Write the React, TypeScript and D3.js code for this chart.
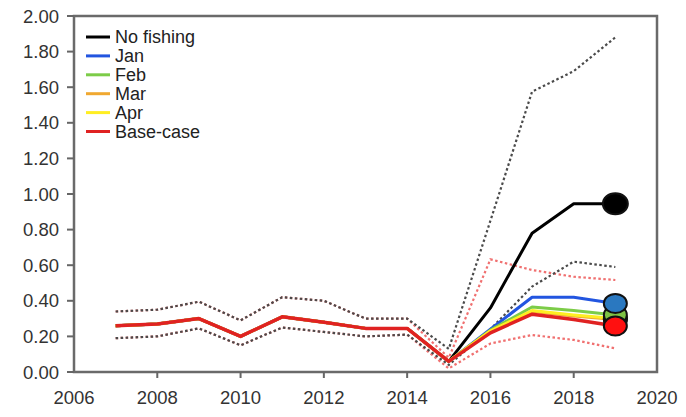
import React from "react";
import * as d3 from "d3";

const years = [2007, 2008, 2009, 2010, 2011, 2012, 2013, 2014, 2015, 2016, 2017, 2018, 2019];
const historic = [0.26, 0.27, 0.3, 0.2, 0.31, 0.28, 0.245, 0.245, 0.06];
const noFishing = [...historic, 0.36, 0.78, 0.945, 0.945];
const jan = [...historic, 0.24, 0.42, 0.42, 0.385];
const feb = [...historic, 0.235, 0.365, 0.345, 0.32];
const mar = [...historic, 0.23, 0.34, 0.315, 0.295];
const apr = [...historic, 0.23, 0.345, 0.32, 0.3];
const baseCase = [...historic, 0.22, 0.325, 0.295, 0.258];

const histUpper = [0.34, 0.35, 0.395, 0.29, 0.42, 0.4, 0.3, 0.3];
const histLower = [0.19, 0.2, 0.245, 0.15, 0.25, 0.225, 0.2, 0.21];
const noFishingUpper = [...histUpper, 0.13, 0.85, 1.575, 1.69, 1.88];
const noFishingLower = [...histLower, 0.04, 0.24, 0.48, 0.62, 0.59];
const baseUpper = [...histUpper, 0.08, 0.633, 0.573, 0.535, 0.517];
const baseLower = [...histLower, 0.02, 0.16, 0.208, 0.18, 0.133];

const xTicks = [2006, 2008, 2010, 2012, 2014, 2016, 2018, 2020];
const yTicks = [0, 0.2, 0.4, 0.6, 0.8, 1.0, 1.2, 1.4, 1.6, 1.8, 2.0];

const series = [
  { name: "No fishing", values: noFishing, color: "#000000", marker: "#000000" },
  { name: "Jan", values: jan, color: "#2255e0", marker: "#2a78c0" },
  { name: "Feb", values: feb, color: "#7ccc48", marker: "#7ec244" },
  { name: "Mar", values: mar, color: "#f0a830", marker: "#f0a830" },
  { name: "Apr", values: apr, color: "#ffee22", marker: "#ffee22" },
  { name: "Base-case", values: baseCase, color: "#e02222", marker: "#ff1010" },
];

const W = 686, H = 417;
const L = 74, R = 657, T = 16, B = 372;

export default function App() {
  const x = d3.scaleLinear().domain([2006, 2020]).range([L, R]);
  const y = d3.scaleLinear().domain([0, 2]).range([B, T]);
  const line = d3.line<number>().x((_, i) => x(years[i])).y((d) => y(d));
  const font = "Liberation Sans, Arial, sans-serif";
  const markerOrder = [3, 4, 2, 1, 5, 0];
  return (
    <svg width={W} height={H} style={{ position: "absolute", left: 0, top: 0, background: "#fff" }}>
      <path d={line(baseUpper) || ""} fill="none" stroke="#f07070" strokeWidth={2.2} strokeDasharray="2.5,2.5" />
      <path d={line(baseLower) || ""} fill="none" stroke="#f07070" strokeWidth={2.2} strokeDasharray="2.5,2.5" />
      <path d={line(noFishingUpper) || ""} fill="none" stroke="#4a4a4a" strokeWidth={2.2} strokeDasharray="2.5,2.5" />
      <path d={line(noFishingLower) || ""} fill="none" stroke="#4a4a4a" strokeWidth={2.2} strokeDasharray="2.5,2.5" />
      {series.map((s, i) => (
        <path key={s.name} d={line(s.values) || ""} fill="none" stroke={s.color} strokeWidth={i === 5 ? 3.5 : 3} strokeLinejoin="round" />
      ))}
      {markerOrder.map((i) => {
        const s = series[i];
        const v = s.values[s.values.length - 1];
        const big = i === 0;
        return (
          <ellipse key={s.name} cx={x(2019)} cy={y(v)} rx={big ? 12.5 : 11.5} ry={big ? 10.5 : 9.5} fill={s.marker} stroke="#111" strokeWidth={2} />
        );
      })}
      <rect x={L} y={T} width={R - L} height={B - T} fill="none" stroke="#6a6a6a" strokeWidth={2.5} />
      {yTicks.map((t) => (
        <g key={t}>
          <line x1={L - 7} x2={L} y1={y(t)} y2={y(t)} stroke="#666" strokeWidth={2} />
          <text x={59} y={y(t)} dy="0.36em" textAnchor="end" fontFamily={font} fontSize={18.5} fill="#333">{t.toFixed(2)}</text>
        </g>
      ))}
      {xTicks.map((t) => (
        <g key={t}>
          {t > 2006 && t < 2020 && <line x1={x(t)} x2={x(t)} y1={B} y2={B + 6} stroke="#666" strokeWidth={2} />}
          <text x={x(t)} y={404} textAnchor="middle" fontFamily={font} fontSize={18.5} fill="#333">{t}</text>
        </g>
      ))}
      {series.map((s, i) => {
        const cy = 37 + i * 18.9;
        return (
          <g key={s.name}>
            <line x1={86} x2={110} y1={cy} y2={cy} stroke={s.color} strokeWidth={3} />
            <text x={115} y={cy} dy="0.36em" fontFamily={font} fontSize={18} fill="#222">{s.name}</text>
          </g>
        );
      })}
    </svg>
  );
}
